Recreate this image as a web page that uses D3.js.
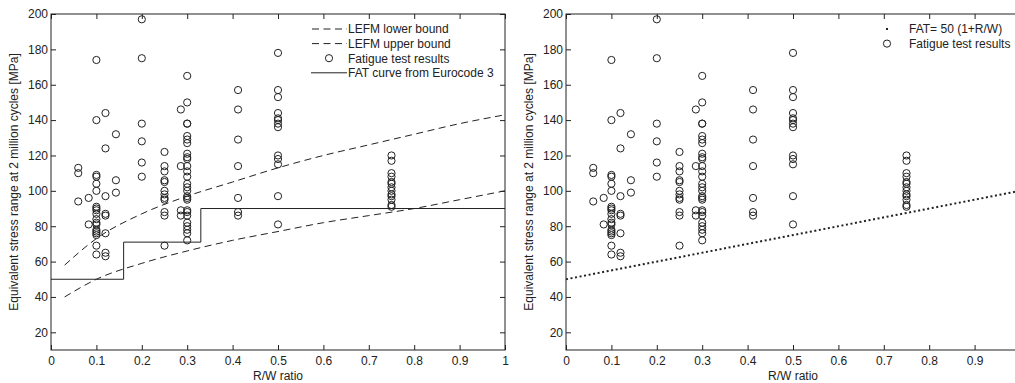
<!DOCTYPE html>
<html><head><meta charset="utf-8">
<script src="https://cdn.jsdelivr.net/npm/d3@7/dist/d3.min.js"></script>
<style>
body{margin:0;background:#fff;}
svg text{font-family:"Liberation Sans",Arial,sans-serif;fill:#222;}
</style></head>
<body><svg id="c" width="1015" height="383"></svg>
<script>
// ---- data ----
const testRW = [
  0.06,0.06,0.06,
  0.083,0.083,
  0.1,0.1,0.1,0.1,0.1,0.1,0.1,0.1,0.1,0.1,0.1,0.1,0.1,0.1,0.1,0.1,0.1,0.1,0.1,
  0.12,0.12,0.12,0.12,0.12,0.12,0.12,0.12,
  0.143,0.143,0.143,
  0.2,0.2,0.2,0.2,0.2,0.2,
  0.25,0.25,0.25,0.25,0.25,0.25,0.25,0.25,0.25,0.25,0.25,0.25,
  0.286,0.286,0.286,0.286,
  0.3,0.3,0.3,0.3,0.3,0.3,0.3,0.3,0.3,0.3,0.3,0.3,0.3,0.3,0.3,0.3,0.3,0.3,0.3,0.3,0.3,0.3,0.3,0.3,0.3,0.3,0.3,
  0.412,0.412,0.412,0.412,0.412,0.412,0.412,
  0.5,0.5,0.5,0.5,0.5,0.5,0.5,0.5,0.5,0.5,0.5,0.5,0.5,
  0.75,0.75,0.75,0.75,0.75,0.75,0.75,0.75,0.75,0.75,0.75,0.75,0.75
];
const testStress = [
  113,110,94,
  96,81,
  174,140,109,108,104,100,91,90,89,87,84,82,81,78,77,76,75,69,64,
  144,124,97,87,86,76,65,63,
  132,106,99,
  197,175,138,128,116,108,
  122,114,111,106,105,100,98,96,95,88,86,69,
  146,114,89,86,
  165,150,138,138,131,129,127,121,119,118,114,111,108,104,102,100,97,96,95,89,88,86,82,80,78,76,72,
  157,146,129,114,96,88,86,
  178,157,153,144,141,140,138,136,120,118,115,97,81,
  120,117,110,108,105,104,102,100,98,97,95,92,91
];
const lefmX = [0.03,0.1,0.2,0.3,0.4,0.5,0.6,0.7,0.8,0.9,1.0];
const lefmLower = [40,50,59,66,72,77,82,86,90,95,100];
const lefmUpper = [58,73,87,97,105,113,120,126,132,138,143];
const fatStepX = [0,0.16,0.16,0.33,0.33,1.0];
const fatStepY = [50,50,71,71,90,90];
const fatLineX = [0,1];
const fatLineY = [50,100];
const xTicksLeft = [0,0.1,0.2,0.3,0.4,0.5,0.6,0.7,0.8,0.9,1];
const xTicksRight = [0,0.1,0.2,0.3,0.4,0.5,0.6,0.7,0.8,0.9];
const yTicks = [20,40,60,80,100,120,140,160,180,200];
const yLabel = "Equivalent stress range at 2 million cycles [MPa]";
const xLabel = "R/W ratio";

const svg = d3.select("#c");
const ink = "#222";
const fs = 12;

function panel(x0, x1, id, xTicks) {
  const x = d3.scaleLinear().domain([0,1]).range([x0,x1]);
  const y = d3.scaleLinear().domain([10,200]).range([350,14]);
  const g = svg.append("g");
  const fmt = d => d === 0 ? "0" : d === 1 ? "1" : d3.format(".1f")(d);
  g.append("clipPath").attr("id","clip"+id).append("rect")
    .attr("x",x0).attr("y",14).attr("width",x1-x0).attr("height",336);
  g.append("rect").attr("x",x0).attr("y",14).attr("width",x1-x0).attr("height",336)
    .attr("fill","none").attr("stroke",ink).attr("stroke-width",1);
  const ax = (gen, tr) => {
    const a = g.append("g").attr("transform",tr).call(gen);
    a.select(".domain").remove();
    a.selectAll("line").attr("stroke",ink);
    a.selectAll("text").attr("font-size",fs).attr("fill",ink).style("font-family","Liberation Sans, Arial, sans-serif");
    return a;
  };
  ax(d3.axisBottom(x).tickValues(xTicks).tickFormat(fmt).tickSizeInner(-5).tickSizeOuter(0).tickPadding(6), "translate(0,350)");
  ax(d3.axisTop(x).tickValues(xTicks).tickFormat("").tickSizeInner(-5).tickSizeOuter(0), "translate(0,14)");
  ax(d3.axisLeft(y).tickValues(yTicks).tickSizeInner(-5).tickSizeOuter(0).tickPadding(3), `translate(${x0},0)`);
  ax(d3.axisRight(y).tickValues(yTicks).tickFormat("").tickSizeInner(-5).tickSizeOuter(0), `translate(${x1},0)`);
  g.append("text").attr("x",(x0+454/2)).attr("y",380).attr("text-anchor","middle").attr("font-size",fs).text(xLabel);
  g.append("text").attr("transform",`translate(${x0-33},182) rotate(-90)`).attr("text-anchor","middle")
    .attr("font-size",fs).text(yLabel);
  const plot = g.append("g").attr("clip-path",`url(#clip${id})`);
  return {x,y,g,plot};
}

function drawPoints(p) {
  p.plot.selectAll("circle.pt").data(testRW).join("circle").attr("class","pt")
    .attr("cx",(d)=>p.x(d)).attr("cy",(d,i)=>p.y(testStress[i])).attr("r",3.6)
    .attr("fill","none").attr("stroke",ink).attr("stroke-width",1);
}

// Left panel
const L = panel(51, 505, "L", xTicksLeft);
const lineC = d3.line().x(d=>L.x(d[0])).y(d=>L.y(d[1])).curve(d3.curveMonotoneX);
L.plot.append("path").datum(lefmX.map((v,i)=>[v,lefmLower[i]])).attr("d",lineC)
  .attr("fill","none").attr("stroke",ink).attr("stroke-width",1).attr("stroke-dasharray","7,4.5");
L.plot.append("path").datum(lefmX.map((v,i)=>[v,lefmUpper[i]])).attr("d",lineC)
  .attr("fill","none").attr("stroke",ink).attr("stroke-width",1).attr("stroke-dasharray","7,4.5");
L.plot.append("path").datum(fatStepX.map((v,i)=>[v,fatStepY[i]]))
  .attr("d",d3.line().x(d=>L.x(d[0])).y(d=>L.y(d[1])))
  .attr("fill","none").attr("stroke",ink).attr("stroke-width",1);
drawPoints(L);
// Left legend
const lg = L.g.append("g");
const leg = [
  {t:"LEFM lower bound", k:"dash"},
  {t:"LEFM upper bound", k:"dash"},
  {t:"Fatigue test results", k:"circle"},
  {t:"FAT curve from Eurocode 3", k:"solid"}
];
leg.forEach((e,i)=>{
  const yy = 29 + i*14.6;
  if (e.k==="dash") lg.append("line").attr("x1",311).attr("x2",347).attr("y1",yy).attr("y2",yy)
    .attr("stroke",ink).attr("stroke-dasharray","7,4.5").attr("stroke-dashoffset",-1);
  if (e.k==="solid") lg.append("line").attr("x1",311).attr("x2",347).attr("y1",yy).attr("y2",yy).attr("stroke",ink);
  if (e.k==="circle") lg.append("circle").attr("cx",329).attr("cy",yy).attr("r",3.6).attr("fill","none").attr("stroke",ink);
  lg.append("text").attr("x",348).attr("y",yy+4.3).attr("font-size",fs).text(e.t);
});

// Right panel
const R = panel(566, 1020, "R", xTicksRight);
R.plot.append("path").datum(fatLineX.map((v,i)=>[v,fatLineY[i]]))
  .attr("d",d3.line().x(d=>R.x(d[0])).y(d=>R.y(d[1])))
  .attr("fill","none").attr("stroke",ink).attr("stroke-width",2).attr("stroke-dasharray","2,2.6");
drawPoints(R);
const rg = R.g.append("g");
rg.append("rect").attr("x",886).attr("y",28).attr("width",2).attr("height",2).attr("fill",ink);
rg.append("text").attr("x",909).attr("y",33.3).attr("font-size",fs).text("FAT= 50 (1+R/W)");
rg.append("circle").attr("cx",887).attr("cy",43.6).attr("r",3.6).attr("fill","none").attr("stroke",ink);
rg.append("text").attr("x",909).attr("y",47.9).attr("font-size",fs).text("Fatigue test results");
</script></body></html>
